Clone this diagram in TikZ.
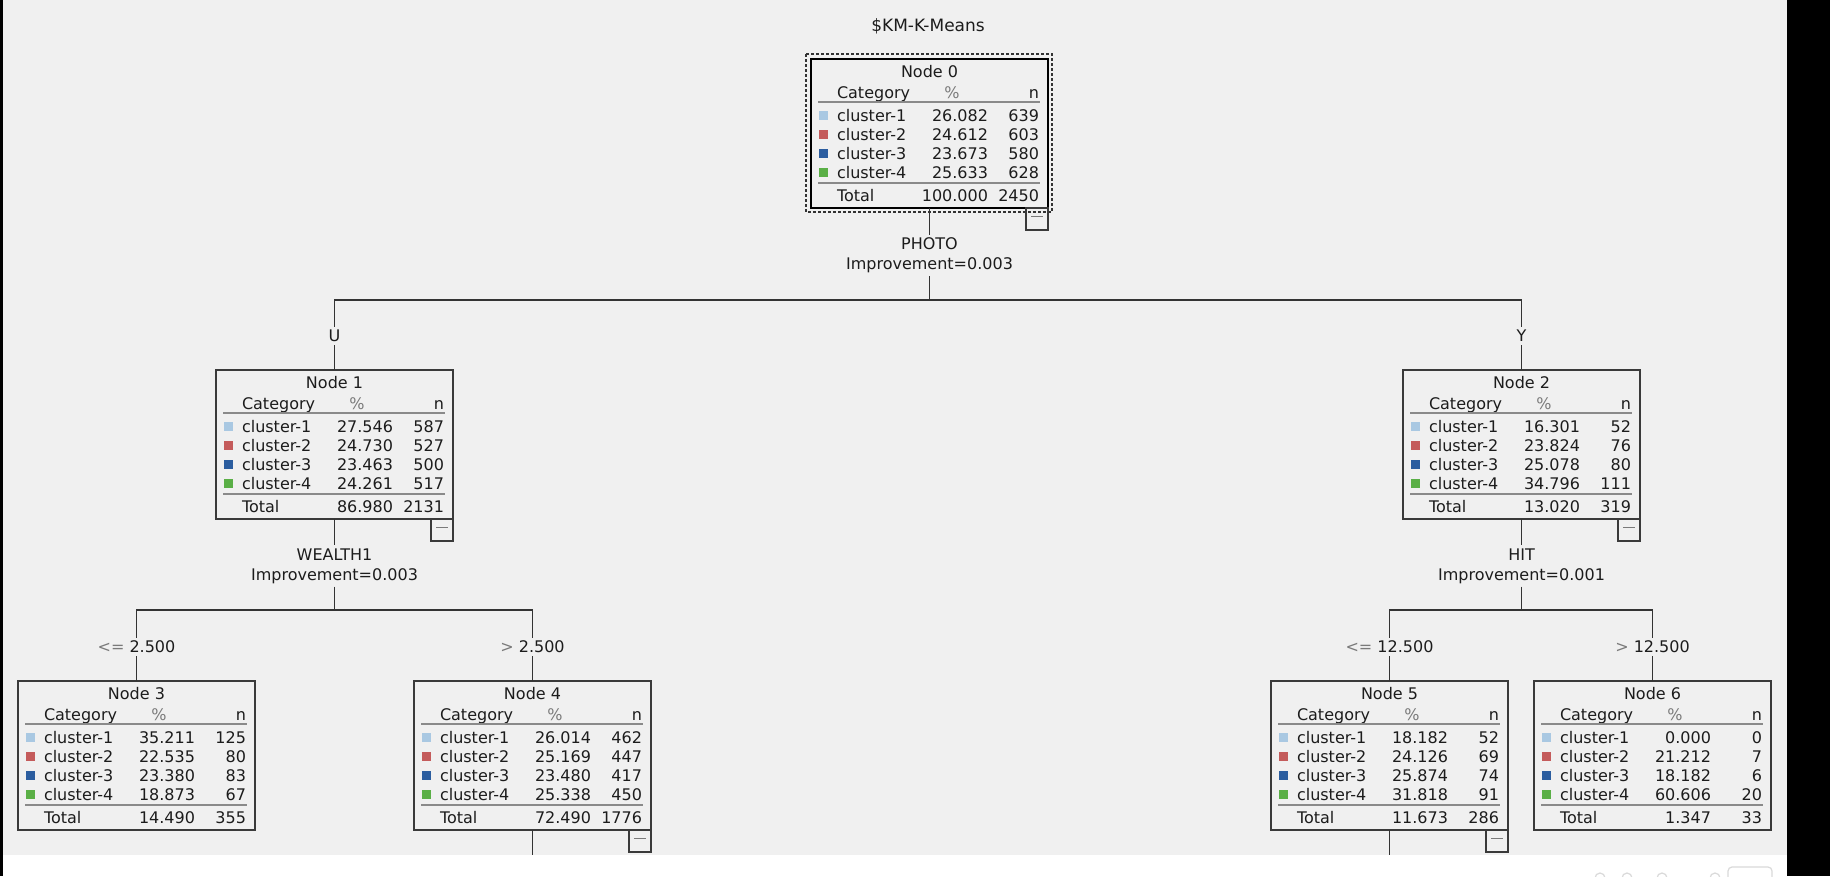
\documentclass[tikz,border=0pt]{standalone}
\usepackage{fontspec}
\setmainfont{DejaVu Sans}
\usetikzlibrary{calc}
\definecolor{bg}{HTML}{F0F0F0}
\definecolor{txtc}{HTML}{1C1C1C}
\definecolor{linec}{HTML}{333333}
\definecolor{boxc}{HTML}{3A3A3A}
\definecolor{rulec}{HTML}{8A8A8A}
\definecolor{opgray}{HTML}{7A7A7A}
\definecolor{sw1}{HTML}{A9C8E2}
\definecolor{sw2}{HTML}{C45B5B}
\definecolor{sw3}{HTML}{2B5D9F}
\definecolor{sw4}{HTML}{5AAF46}
\definecolor{faint}{HTML}{DADADA}
\tikzset{
  txt/.style={font=\fontsize{16}{18}\selectfont, inner sep=0pt, outer sep=0pt, text=txtc},
  lab/.style={font=\fontsize{16}{20}\selectfont, inner sep=3pt, text=txtc, align=center},
  box/.style={draw=boxc, line width=1.4pt, fill=bg, minimum width=237pt, minimum height=149pt, inner sep=0pt, outer sep=0pt},
  minusbox/.style={draw=boxc, line width=1.4pt, minimum width=22pt, minimum height=22pt, inner sep=0pt, outer sep=0pt},
  rulel/.style={draw=rulec, line width=1.8pt},
  edge/.style={draw=linec, line width=1.6pt},
}
\newcommand\TreeNode[6]{%
\begin{scope}[shift={(#2,#3)}]
  \node[box,anchor=north west] (n#1) at (0,0) {};
  \node[txt,anchor=mid] (n#1-title) at (118.5,15.5) {Node #1};
  \node[txt,anchor=mid west] (n#1-hc) at (26,36.5) {Category};
  \node[txt,anchor=mid,text=opgray] (n#1-hp) at (141,36.5) {\%};
  \node[txt,anchor=mid east] (n#1-hn) at (228,36.5) {n};
  \draw[rulel] (7,43) -- (229,43);
  \foreach \pp/\nn [count=\i] in {#4} {
    \pgfmathsetmacro\yy{38+19*\i}
    \fill[sw\i] (7.5,\yy-5.5) rectangle (16.5,\yy+3.5);
    \node[txt,anchor=mid west] (n#1-c\i) at (26,\yy+2.5) {cluster-\i};
    \node[txt,anchor=mid east] (n#1-p\i) at (177,\yy+2.5) {\pp};
    \node[txt,anchor=mid east] (n#1-n\i) at (228,\yy+2.5) {\nn};
  }
  \draw[rulel] (7,124) -- (229,124);
  \node[txt,anchor=mid west] (n#1-tl) at (26,139.5) {Total};
  \node[txt,anchor=mid east] (n#1-tp) at (177,139.5) {#5};
  \node[txt,anchor=mid east] (n#1-tn) at (228,139.5) {#6};
\end{scope}}
\newcommand\MinusBox[1]{%
  \node[minusbox,anchor=north east] (n#1-m) at (n#1.south east)
    {\textcolor{opgray}{\rule[5pt]{12pt}{1.2pt}}};}
\begin{document}
\begin{tikzpicture}[x=1pt,y=-1pt]
\useasboundingbox (0,0) rectangle (1830,876);
\fill[bg] (0,0) rectangle (1830,876);
\fill[white] (0,855) rectangle (1830,876);
% faint controls at bottom right
\draw[faint, line width=1.2pt] (1600,878) circle (5);
\draw[faint, line width=1.2pt] (1627,878) circle (5);
\draw[faint, line width=1.2pt] (1662,878) circle (5);
\draw[faint, line width=1.2pt] (1715,878) circle (5);
\draw[faint, line width=1.2pt, rounded corners=4pt] (1728,867) rectangle (1772,890);

% title
\node[txt, font=\fontsize{17}{18}\selectfont] (title) at (928,26) {\$KM-K-Means};

% nodes
\TreeNode{0}{811}{59}{26.082/639,24.612/603,23.673/580,25.633/628}{100.000}{2450}
\TreeNode{1}{216}{370}{27.546/587,24.730/527,23.463/500,24.261/517}{86.980}{2131}
\TreeNode{2}{1403}{370}{16.301/52,23.824/76,25.078/80,34.796/111}{13.020}{319}
\TreeNode{3}{18}{681}{35.211/125,22.535/80,23.380/83,18.873/67}{14.490}{355}
\TreeNode{4}{414}{681}{26.014/462,25.169/447,23.480/417,25.338/450}{72.490}{1776}
\TreeNode{5}{1271}{681}{18.182/52,24.126/69,25.874/74,31.818/91}{11.673}{286}
\TreeNode{6}{1534}{681}{0.000/0,21.212/7,18.182/6,60.606/20}{1.347}{33}

% highlight of node 0
\draw[draw=black, line width=2.6pt] (n0.north west) rectangle (n0.south east);
\draw[draw=linec, line width=1.1pt, dash pattern=on 3pt off 2pt]
  ([shift={(-5,-5)}]n0.north west) rectangle ([shift={(4,4)}]n0.south east);

\MinusBox{0}
\MinusBox{1}
\MinusBox{2}
\MinusBox{4}
\MinusBox{5}

% level rows
\coordinate (ys1) at (0,255.5);
\coordinate (yj1) at (0,300);
\coordinate (ye1) at (0,336);
\coordinate (ys2) at (0,566);
\coordinate (yj2) at (0,610);
\coordinate (ye2) at (0,647);
\coordinate (ybot) at (0,855);

% split 0
\node[lab] (s0) at (n0.south |- ys1) {PHOTO\\Improvement=0.003};
\coordinate (j0) at (n0.south |- yj1);
\node[lab] (e1) at (n1.north |- ye1) {U};
\node[lab] (e2) at (n2.north |- ye1) {Y};
\draw[edge] (n0.south) -- (s0.north);
\draw[edge] (s0.south) -- (j0);
\draw[edge] (e1.north) |- (j0) -| (e2.north);
\draw[edge] (e1.south) -- (n1.north);
\draw[edge] (e2.south) -- (n2.north);

% split 1
\node[lab] (s1) at (n1.south |- ys2) {WEALTH1\\Improvement=0.003};
\coordinate (j1) at (n1.south |- yj2);
\node[lab] (e3) at (n3.north |- ye2) {\textcolor{opgray}{<=} 2.500};
\node[lab] (e4) at (n4.north |- ye2) {\textcolor{opgray}{>} 2.500};
\draw[edge] (n1.south) -- (s1.north);
\draw[edge] (s1.south) -- (j1);
\draw[edge] (e3.north) |- (j1) -| (e4.north);
\draw[edge] (e3.south) -- (n3.north);
\draw[edge] (e4.south) -- (n4.north);

% split 2
\node[lab] (s2) at (n2.south |- ys2) {HIT\\Improvement=0.001};
\coordinate (j2) at (n2.south |- yj2);
\node[lab] (e5) at (n5.north |- ye2) {\textcolor{opgray}{<=} 12.500};
\node[lab] (e6) at (n6.north |- ye2) {\textcolor{opgray}{>} 12.500};
\draw[edge] (n2.south) -- (s2.north);
\draw[edge] (s2.south) -- (j2);
\draw[edge] (e5.north) |- (j2) -| (e6.north);
\draw[edge] (e5.south) -- (n5.north);
\draw[edge] (e6.south) -- (n6.north);

% continuing branches below nodes 4 and 5
\coordinate (b4) at (n4.south |- ybot);
\coordinate (b5) at (n5.south |- ybot);
\draw[edge] (n4.south) -- (b4);
\draw[edge] (n5.south) -- (b5);

% window edges
\fill[black] (1787,0) rectangle (1830,876);
\fill[black] (0,0) rectangle (3,876);
\end{tikzpicture}
\end{document}
